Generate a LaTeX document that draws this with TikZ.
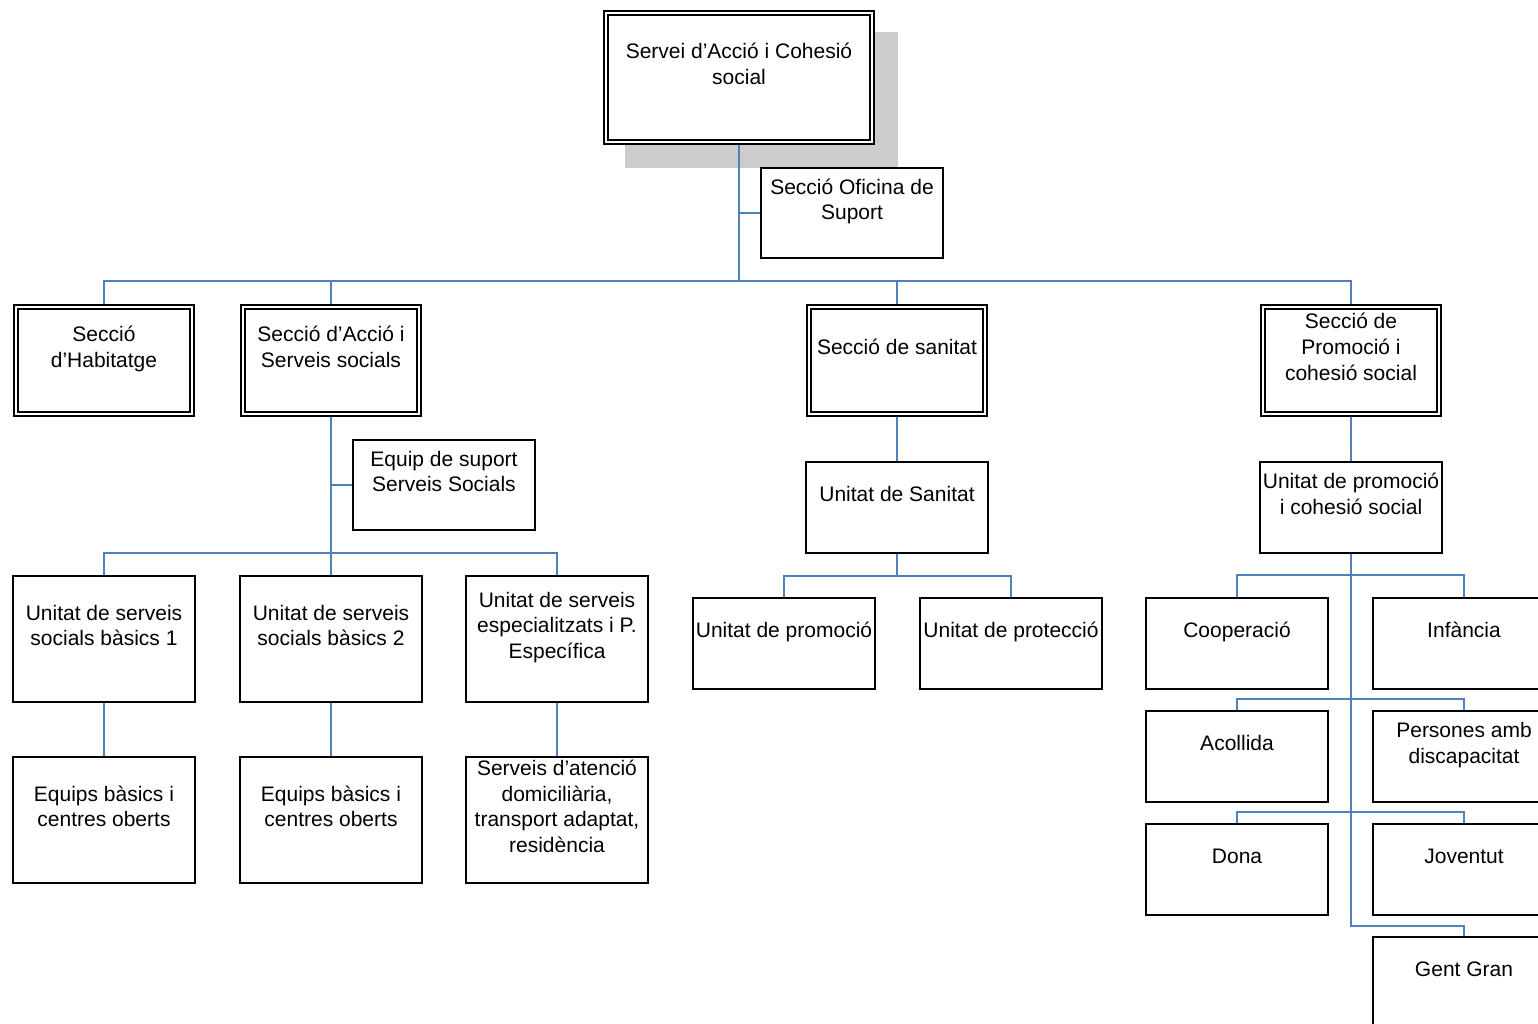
\documentclass[tikz,border=0pt]{standalone}
\usepackage{fontspec}
\setmainfont{Liberation Sans}
\usetikzlibrary{backgrounds}
\definecolor{linkblue}{RGB}{79,129,189}
\definecolor{shadowgray}{RGB}{204,204,204}
\newcommand{\lbl}[1]{\raisebox{6pt}[0pt][0pt]{\begin{tabular}{@{}c@{}}#1\end{tabular}}}

\begin{document}
\begin{tikzpicture}[x=1pt,y=-1pt,font=\fontsize{21}{25.7}\selectfont,
  unit/.style={draw,line width=2pt,fill=white,inner sep=0pt,minimum width=182pt,minimum height=91pt},
  tall/.style={unit,minimum height=126pt},
  sec/.style={draw,line width=1.6pt,double,double distance=2.8pt,fill=white,inner sep=0pt,minimum width=176pt,minimum height=107pt},
  link/.style={draw=linkblue,line width=2pt}]
\useasboundingbox (0,0) rectangle (1538,1024);
\clip (0,0) rectangle (1538,1024);

\node[sec,minimum width=266pt,minimum height=129pt] (top) at (739,77.5) {\lbl{Servei d’Acció i Cohesió\\social}};
\node[unit,minimum height=90pt] (ofi) at (852,213) {\lbl{Secció Oficina de\\Suport}};

\node[sec] (hab) at (104,360.5) {\lbl{Secció\\d’Habitatge}};
\node[sec] (acc) at (331,360.5) {\lbl{Secció d’Acció i\\Serveis socials}};
\node[sec] (san) at (897,360.5) {\lbl{Secció de sanitat}};
\node[sec] (pro) at (1351,360.5) {\lbl{Secció de\\Promoció i\\cohesió social}};

\node[unit,minimum height=90pt] (eq) at (444,485) {\lbl{Equip de suport\\Serveis Socials}};
\node[tall] (u1) at (104,639) {\lbl{Unitat de serveis\\socials bàsics 1}};
\node[tall] (u2) at (331,639) {\lbl{Unitat de serveis\\socials bàsics 2}};
\node[tall] (u3) at (557,639) {\lbl{Unitat de serveis\\especialitzats i P.\\Específica}};
\node[tall] (e1) at (104,820) {\lbl{Equips bàsics i\\centres oberts}};
\node[tall] (e2) at (331,820) {\lbl{Equips bàsics i\\centres oberts}};
\node[tall] (e3) at (557,820) {\lbl{Serveis d’atenció\\domiciliària,\\transport adaptat,\\residència}};

\node[unit] (usan) at (897,507.5) {\lbl{Unitat de Sanitat}};
\node[unit] (uprom) at (784,643.5) {\lbl{Unitat de promoció}};
\node[unit] (uprot) at (1011,643.5) {\lbl{Unitat de protecció}};

\node[unit] (upc) at (1351,507.5) {\lbl{Unitat de promoció\\i cohesió social}};
\node[unit] (coop) at (1237,643.5) {\lbl{Cooperació}};
\node[unit] (inf) at (1464,643.5) {\lbl{Infància}};
\node[unit] (aco) at (1237,756.5) {\lbl{Acollida}};
\node[unit] (pers) at (1464,756.5) {\lbl{Persones amb\\discapacitat}};
\node[unit] (dona) at (1237,869.5) {\lbl{Dona}};
\node[unit] (jov) at (1464,869.5) {\lbl{Joventut}};
\node[unit] (gent) at (1464,982.5) {\lbl{Gent Gran}};

\coordinate (hub) at (739,281);
\coordinate (hubss) at (331,553);
\coordinate (hubsan) at (897,576);
\coordinate (hubgent) at (1351,926);

\begin{scope}[on background layer]
\fill[shadowgray] (625,32) rectangle (898,168);
\draw[link] (top.south) -- (hub);
\draw[link] (ofi.west) -- (ofi.west -| top.south);
\foreach \n in {hab,acc,san,pro}
    \draw[link] (hub) -| (\n.north);

\draw[link] (acc.south) -- (hubss);
\draw[link] (eq.west) -- (eq.west -| acc.south);
\foreach \n/\m in {u1/e1,u2/e2,u3/e3}{
    \draw[link] (hubss) -| (\n.north);
    \draw[link] (\n.south) -- (\m.north);
}

\draw[link] (san.south) -- (usan.north);
\draw[link] (usan.south) -- (hubsan);
\foreach \n in {uprom,uprot}
    \draw[link] (hubsan) -| (\n.north);

\draw[link] (pro.south) -- (upc.north);
\draw[link] (upc.south) -- (hubgent) -| (gent.north);
\foreach \a/\b/\d in {coop/inf/22,aco/pers/11,dona/jov/11}
    \draw[link] (\a.north) -- ++(0,-\d) -| (\b.north);
\end{scope}
\end{tikzpicture}
\end{document}
